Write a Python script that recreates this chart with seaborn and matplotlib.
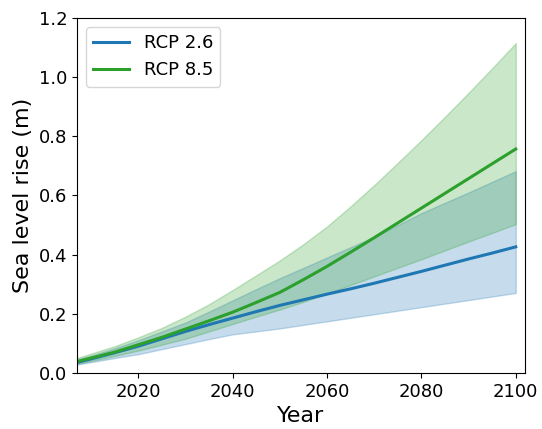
import matplotlib
matplotlib.use('Agg')
import matplotlib.pyplot as plt
import pandas as pd
import seaborn as sns

# values
years = [2007, 2010, 2015, 2020, 2025, 2030, 2035, 2040, 2045, 2050,
         2055, 2060, 2065, 2070, 2075, 2080, 2085, 2090, 2095, 2100]

rcp26_mid = [0.035, 0.047, 0.068, 0.090, 0.115, 0.140, 0.163, 0.185, 0.207, 0.228,
             0.247, 0.266, 0.284, 0.303, 0.323, 0.343, 0.364, 0.385, 0.405, 0.426]
rcp26_low = [0.028, 0.036, 0.050, 0.063, 0.080, 0.097, 0.114, 0.130, 0.140, 0.150,
             0.162, 0.174, 0.186, 0.198, 0.210, 0.222, 0.234, 0.246, 0.258, 0.270]
rcp26_high = [0.045, 0.058, 0.083, 0.110, 0.140, 0.170, 0.207, 0.245, 0.283, 0.320,
              0.355, 0.390, 0.425, 0.460, 0.500, 0.540, 0.575, 0.610, 0.646, 0.682]

rcp85_mid = [0.038, 0.050, 0.070, 0.095, 0.120, 0.148, 0.176, 0.205, 0.238, 0.272,
             0.315, 0.360, 0.408, 0.457, 0.507, 0.557, 0.607, 0.657, 0.707, 0.757]
rcp85_low = [0.030, 0.040, 0.057, 0.075, 0.095, 0.115, 0.140, 0.165, 0.190, 0.214,
             0.240, 0.268, 0.297, 0.326, 0.355, 0.384, 0.414, 0.444, 0.473, 0.503]
rcp85_high = [0.050, 0.065, 0.090, 0.120, 0.152, 0.190, 0.232, 0.280, 0.330, 0.380,
              0.435, 0.495, 0.563, 0.635, 0.710, 0.787, 0.866, 0.947, 1.030, 1.115]

scenarios = ['RCP 2.6', 'RCP 8.5']
colors = {'RCP 2.6': '#1f77b4', 'RCP 8.5': '#2ca02c'}

df = pd.concat([
    pd.DataFrame({'Year': years, 'rise': rcp26_mid, 'low': rcp26_low,
                  'high': rcp26_high, 'scenario': 'RCP 2.6'}),
    pd.DataFrame({'Year': years, 'rise': rcp85_mid, 'low': rcp85_low,
                  'high': rcp85_high, 'scenario': 'RCP 8.5'}),
])

fig, ax = plt.subplots(figsize=(5.42, 4.29), dpi=100)
fig.subplots_adjust(left=0.142, right=0.969, top=0.958, bottom=0.131)

# shaded ranges
for s in scenarios:
    d = df[df['scenario'] == s]
    ax.fill_between(d['Year'], d['low'], d['high'], color=colors[s], alpha=0.25)

sns.lineplot(data=df, x='Year', y='rise', hue='scenario', hue_order=scenarios,
             palette=colors, linewidth=2.2, ax=ax)

ax.set_xlim(2007, 2102)
ax.set_ylim(0, 1.2)
ax.set_xticks([2020, 2040, 2060, 2080, 2100])
ax.set_yticks([0.0, 0.2, 0.4, 0.6, 0.8, 1.0, 1.2])
ax.tick_params(labelsize=13)
ax.set_xlabel('Year', fontsize=16)
ax.set_ylabel('Sea level rise (m)', fontsize=16)
ax.legend(loc='upper left', fontsize=13, title=None)

plt.savefig('out.png', dpi=100)
